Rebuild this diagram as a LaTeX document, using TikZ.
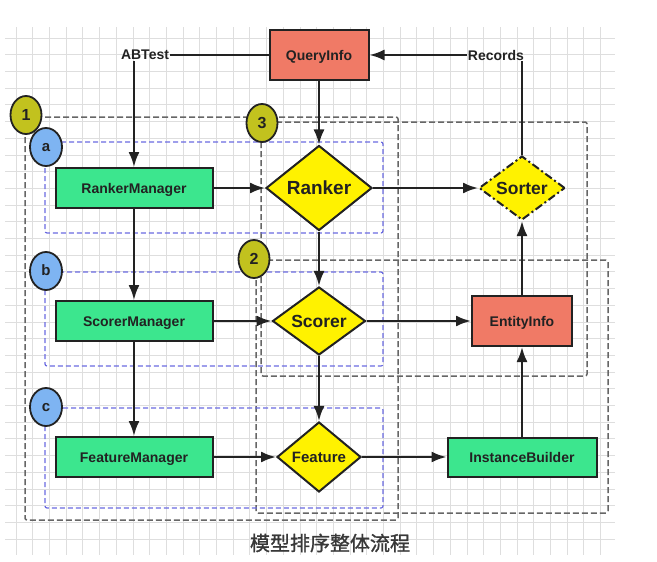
\documentclass[tikz,border=0pt]{standalone}
\usepackage{fontspec}
\usepackage{xcolor}
\usepackage{tikz}
\usetikzlibrary{arrows.meta,shapes.geometric}
\setmainfont{Liberation Sans}
\newfontfamily\cjk{Noto Sans CJK SC}[FakeBold=1.2]

\definecolor{gridgray}{HTML}{DEDEDE}
\definecolor{salmon}{HTML}{F07A66}
\definecolor{mint}{HTML}{3CE68E}
\definecolor{olive}{HTML}{C2C21E}
\definecolor{skyblue}{HTML}{7EB4F2}
\definecolor{boxblue}{HTML}{6A6AE0}
\definecolor{boxgray}{HTML}{666666}
\definecolor{ink}{HTML}{222222}

\begin{document}
\begin{tikzpicture}
      [ x=1pt, y=-1pt
      , font=\bfseries
      , gridline/.style={gridgray, line width=0.7pt}
      , manager/.style={rectangle, draw=ink, fill=mint, line width=2pt,
          minimum width=157pt, minimum height=40pt, text=ink,
          text height=10pt, text depth=0pt,
          font=\bfseries\fontsize{14}{16}\selectfont}
      , info/.style={rectangle, draw=ink, fill=salmon, line width=2pt,
          minimum width=99pt, minimum height=50pt, text=ink,
          text height=10pt, text depth=0pt,
          font=\bfseries\fontsize{14}{16}\selectfont}
      , choice/.style={diamond, draw=ink, fill=yellow, line width=2pt,
          aspect=1.5, inner sep=0pt, text=ink, text depth=0pt}
      , tag/.style={inner sep=1pt, text=ink,
          font=\bfseries\fontsize{14}{16}\selectfont}
      , grayzone/.style={boxgray, dash pattern=on 6pt off 3pt, line width=1.5pt,
          rounded corners=2pt}
      , bluezone/.style={boxblue, dash pattern=on 5pt off 3pt, line width=1.2pt,
          rounded corners=2pt}
      , stage/.style={ellipse, draw=ink, fill=olive, line width=1.8pt,
          minimum width=31pt, minimum height=38pt, inner sep=0pt, text=ink,
          text height=11.5pt, text depth=0pt,
          font=\bfseries\fontsize{16}{18}\selectfont}
      , step letter/.style={ellipse, draw=ink, fill=skyblue, line width=1.8pt,
          minimum width=32pt, minimum height=38pt, inner sep=0pt, text=ink,
          text height=8pt, text depth=0pt,
          font=\bfseries\fontsize{15}{17}\selectfont}
      , flow/.style={ink, draw, line width=2.2pt}
      , >={Latex[length=15pt,width=11pt]}
      ]
    \useasboundingbox (0,0) rectangle (657,562);

    % background grid
    \foreach \gx in {0,...,35}
      \draw[gridline] (16+16.7*\gx,27) -- (16+16.7*\gx,555);
    \foreach \gy in {0,...,30}
      \draw[gridline] (5,38+16.7*\gy) -- (615,38+16.7*\gy);

    % zones
    \draw[grayzone] (25,117) rectangle (398,520);
    \draw[grayzone] (261,122) rectangle (587,376);
    \draw[grayzone] (256,260) rectangle (608,513);
    \draw[bluezone] (45,142) rectangle (383,233);
    \draw[bluezone] (45,272) rectangle (383,366);
    \draw[bluezone] (45,408) rectangle (383,508);

    \node[stage] (L1) at (26,115) {1};
    \node[stage] (L3) at (262,123) {3};
    \node[stage] (L2) at (254,259) {2};
    \node[step letter] (La) at (46,147) {a};
    \node[step letter] (Lb) at (46,271) {b};
    \node[step letter] (Lc) at (46,407) {c};

    % nodes
    \node[info] (QI) at (319,55) {QueryInfo};
    \node[tag] (AB) at (145,55) {ABTest};
    \node[tag] (RC) at (496,55) {Records};

    \node[manager] (RM) at (134,188) {RankerManager};
    \node[manager] (SM) at (134,321) {ScorerManager};
    \node[manager] (FM) at (134,457) {FeatureManager};

    \node[choice, minimum width=106pt, minimum height=85pt, text height=13.7pt,
          font=\bfseries\fontsize{19}{21}\selectfont] (RK) at (319,188) {Ranker};
    \node[choice, minimum width=93pt, minimum height=68pt, text height=12.6pt,
          font=\bfseries\fontsize{17.5}{20}\selectfont] (SC) at (319,321) {Scorer};
    \node[choice, minimum width=84pt, minimum height=70pt, text height=10.8pt,
          font=\bfseries\fontsize{15}{17}\selectfont] (FE) at (319,457) {Feature};
    \node[choice, dash pattern=on 8pt off 3pt on 2pt off 3pt,
          minimum width=86pt, minimum height=64pt, text height=12.6pt,
          font=\bfseries\fontsize{17.5}{20}\selectfont] (SO) at (522,188) {Sorter};

    \node[info, minimum width=100pt] (EI) at (522,321) {EntityInfo};
    \node[manager, minimum width=149pt, minimum height=39pt] (IB) at (522,457) {InstanceBuilder};

    % connectors
    \draw[flow] (AB) -- (QI);
    \draw[flow] (SO) -- (SO |- RC.south);
    \draw[->, flow] (RC) -- (QI);
    \draw[->, flow] (RM.north |- AB.south) -- (RM.north);

    \draw[->, flow]
    (QI) edge (RK)
    (RK) edge (SC)
    (SC) edge (FE)

    (RM) edge (RK)
    (SM) edge (SC)
    (FM) edge (FE)

    (RM) edge (SM)
    (SM) edge (FM)

    (RK) edge (SO)
    (SC) edge (EI)
    (FE) edge (IB)

    (IB) edge (EI)
    (EI) edge (SO);

    \node[font=\cjk\fontsize{20}{24}\selectfont, text=ink!90] (CAP) at (330,543) {模型排序整体流程};
  \end{tikzpicture}
\end{document}
